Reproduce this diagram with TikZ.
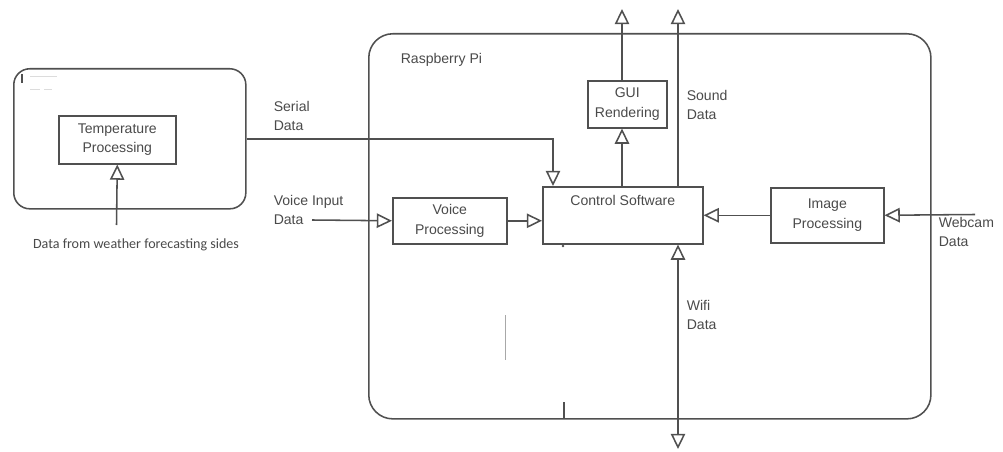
\documentclass[tikz,border=0pt]{standalone}
\usepackage{fontspec}
\setmainfont{Liberation Sans}
\newfontfamily\notefont{Carlito}
\usetikzlibrary{arrows.meta}
\definecolor{linegrey}{HTML}{505050}
\definecolor{textgrey}{HTML}{4A4A4A}

\begin{document}
\begin{tikzpicture}[
  x=0.025cm, y=-0.025cm, line width=1.1pt,
  every node/.style={text=textgrey, font=\fontsize{10}{14}\selectfont},
  board/.style={draw=linegrey, anchor=north west, inner sep=0pt},
  block/.style={draw=linegrey, anchor=north west, align=center, inner sep=0pt},
  lbl/.style={anchor=west, align=left, inner sep=0pt},
  arrow/.style={draw=linegrey, -{Triangle[open, length=3.8mm, width=3.6mm]}},
  twoway/.style={draw=linegrey, {Triangle[open, length=3.8mm, width=3.6mm]}-{Triangle[open, length=3.8mm, width=3.6mm]}}
]
\useasboundingbox (0,0) rectangle (1003,452);
% boards
\node[board, rounded corners=4mm, minimum width=5.8cm, minimum height=3.5cm] (arduino) at (13,68) {};
\node[board, rounded corners=6mm, minimum width=14.05cm, minimum height=9.625cm] (rpi) at (368,33) {};
\node[lbl] (rpiname) at (400,60) {Raspberry Pi};
% blocks
\node[block, minimum width=2.925cm, minimum height=1.2cm] (temp) at (58,115) {Temperature\\Processing};
\node[block, minimum width=1.975cm, minimum height=1.175cm] (gui) at (587,80) {GUI\\Rendering};
\node[block, minimum width=4cm, text height=0.475cm, text depth=0.95cm] (control) at (542,186) {Control Software};
\node[block, minimum width=2.85cm, minimum height=1.15cm] (voice) at (392,197) {Voice\\Processing};
\node[block, minimum width=2.825cm, minimum height=1.375cm] (image) at (770,187) {Image\\Processing};
% free ends
\coordinate (weather) at (116.5,225);
\coordinate (voicein) at (312,220);
\coordinate (webcam) at (975,214.5);
\coordinate (guiout) at (622,9);
\coordinate (soundout) at (678,9);
\coordinate (wifiout) at (678,449);
% labels
\node[font=\notefont\fontsize{10}{12}\selectfont, inner sep=0pt] (weathertxt) at (136,245) {Data from weather forecasting sides};
\node[lbl] (seriallbl) at (273,116) {Serial\\Data};
\node[lbl] (voicelbl) at (273,210) {Voice Input\\Data};
\node[lbl] (soundlbl) at (686,105) {Sound\\Data};
\node[lbl] (wifilbl) at (686,315) {Wifi\\Data};
\node[lbl] (webcamlbl) at (938,232) {Webcam\\Data};
% connectors
\draw[arrow] (weather) -- (temp.south);
\draw[arrow] (arduino.east) -| ([xshift=0.275cm]control.north west);
\draw[arrow] (voicein) -- (voice.west);
\draw[arrow] (voice.east) -- (voice.east -| control.west);
\draw[arrow] (image.west) -- (image.west -| control.east);
\draw[arrow] (webcam) -- (image.east);
\draw[arrow] (control.north -| guiout) -- (gui.south -| guiout);
\draw[arrow] (gui.north -| guiout) -- (guiout);
\draw[arrow] (soundout |- control.north) -- (soundout);
\draw[twoway] (wifiout) -- (wifiout |- control.south);
% stray marks
\draw[linegrey, line width=1.2pt] (22,74) -- (22,83);
\draw[linegrey!20, line width=0.5pt] (30,76) -- (57,76) (30,89) -- (40,89) (44,89) -- (52,89);
\fill[linegrey] (563,246) circle (0.9pt);
\draw[linegrey!50, line width=0.6pt] (505,315) -- (505,360);
\draw[linegrey, line width=0.9pt] (564,402) -- (564,418);
\end{tikzpicture}
\end{document}
